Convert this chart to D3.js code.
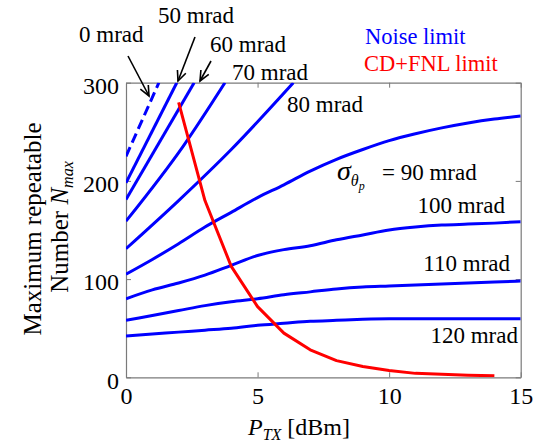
<!DOCTYPE html>
<html>
<head>
<meta charset="utf-8">
<script src="https://cdn.jsdelivr.net/npm/d3@7"></script>
<style>
  html, body { margin: 0; padding: 0; background: #fff; }
  svg { display: block; }
  text { font-family: "Liberation Serif", "Times New Roman", serif; fill: #000; }
</style>
</head>
<body>
<svg id="chart" width="543" height="446"></svg>
<script>
// Axis ticks
const xTicks = [0, 5, 10, 15];
const yTicks = [0, 100, 200, 300];

// Noise-limited curves, one per phase-error sigma (mrad); [P_TX, N_max]
const noise0   = [[0, 225], [1.25, 300]];
const noise50  = [[0, 198], [1.93, 300]];
const noise60  = [[0, 181], [2.59, 300]];
const noise70  = [[0, 159], [2.19, 236], [3.76, 300]];
const noise80  = [[0, 131], [2, 180], [4, 232], [6.36, 300]];
const noise90  = [[0, 105], [1, 120], [2, 136], [3, 153], [4, 168], [5, 183], [6, 196], [7, 210], [8, 222], [9, 232], [10, 241], [11, 248], [12, 254], [13, 259], [14, 263], [15, 266]];
const noise100 = [[0, 80], [1, 89], [2, 96], [3, 104], [4, 114], [5, 124], [6, 130], [7, 134], [8, 140], [9, 145], [10, 150], [11, 153], [12, 155], [13, 156], [14, 157], [15, 158.5]];
const noise110 = [[0, 58], [1, 63], [2, 68], [3, 73], [4, 77], [5, 80], [6, 84], [7, 87], [8, 90], [9, 92], [10, 93], [11, 94], [12, 95], [13, 96], [14, 97], [15, 98]];
const noise120 = [[0, 42], [1, 44], [2, 46], [3, 48], [4, 50], [5, 53], [6, 55], [7, 57], [8, 58], [9, 59], [10, 59.5], [11, 59.5], [12, 59.5], [13, 59.5], [14, 59.5], [15, 59.5]];

// Chromatic dispersion + fiber nonlinearity limit
const cdFnl = [[2, 280], [3, 180], [4, 113], [5, 72], [6, 45], [7, 28], [8, 17], [9, 11], [10, 7], [11, 4], [12, 3], [13, 2], [14, 1.5]];

const curveLabels = ["0 mrad", "50 mrad", "60 mrad", "70 mrad", "80 mrad", "= 90 mrad", "100 mrad", "110 mrad", "120 mrad"];

const svg = d3.select("#chart");
const x = d3.scaleLinear().domain([0, 15]).range([126, 520.7]);
const y = d3.scaleLinear().domain([0, 300]).range([377.3, 82.7]);
const axisColor = "#7a7a7a";

// Frame axes with inward ticks
function styleAxis(g) {
  g.select(".domain").attr("stroke", axisColor).attr("stroke-width", 1.2);
  g.selectAll(".tick line").attr("stroke", axisColor).attr("stroke-width", 1);
  g.selectAll(".tick text").attr("fill", "#000").style("font-family", "Liberation Serif, serif").style("font-size", "24px");
}
svg.append("g").attr("transform", `translate(0,${y(0)})`)
  .call(d3.axisBottom(x).tickValues(xTicks).tickSizeInner(-5).tickSizeOuter(0).tickPadding(10))
  .call(styleAxis);
svg.append("g").attr("transform", `translate(0,${y(300)})`)
  .call(d3.axisTop(x).tickValues(xTicks).tickSizeInner(-5).tickSizeOuter(0).tickFormat(""))
  .call(styleAxis);
svg.append("g").attr("transform", `translate(${x(0)},0)`)
  .call(d3.axisLeft(y).tickValues(yTicks).tickSizeInner(-5).tickSizeOuter(0).tickPadding(7))
  .call(styleAxis)
  .selectAll(".tick text").attr("dy", "0.45em");
svg.append("g").attr("transform", `translate(${x(15)},0)`)
  .call(d3.axisRight(y).tickValues(yTicks).tickSizeInner(-5).tickSizeOuter(0).tickFormat(""))
  .call(styleAxis);

// Curves
svg.append("defs").append("clipPath").attr("id", "plotClip")
  .append("rect").attr("x", x(0)).attr("y", y(300)).attr("width", x(15) - x(0)).attr("height", y(0) - y(300));
const smooth = d3.line().curve(d3.curveMonotoneX).x(d => x(d[0])).y(d => y(d[1]));
const straight = d3.line().x(d => x(d[0])).y(d => y(d[1]));
const plot = svg.append("g").attr("clip-path", "url(#plotClip)");

plot.append("path").datum(noise0).attr("d", smooth)
  .attr("fill", "none").attr("stroke", "#0000ff").attr("stroke-width", 3)
  .attr("stroke-dasharray", "10,5");
[noise50, noise60, noise70, noise80, noise90, noise100, noise110, noise120].forEach(s => {
  plot.append("path").datum(s).attr("d", smooth)
    .attr("fill", "none").attr("stroke", "#0000ff").attr("stroke-width", 3)
    .attr("stroke-linejoin", "round");
});
plot.append("path").datum(cdFnl).attr("d", straight)
  .attr("fill", "none").attr("stroke", "#ff0000").attr("stroke-width", 3)
  .attr("stroke-linejoin", "round");

// Curve annotations
const fs = "23px";
function label(t, px, py, anchor) {
  return svg.append("text").attr("x", px).attr("y", py).attr("text-anchor", anchor || "start")
    .style("font-size", fs).text(t);
}
label(curveLabels[0], 79, 42);
label(curveLabels[1], 158, 23);
label(curveLabels[2], 210, 52);
label(curveLabels[3], 232, 80);
label(curveLabels[4], 287, 112);
label(curveLabels[6], 505, 213, "end");
label(curveLabels[7], 510, 271, "end");
label(curveLabels[8], 518, 343, "end");

// sigma_theta_p = 90 mrad
const sig = svg.append("text").attr("x", 337).attr("y", 180).style("font-size", fs);
sig.append("tspan").style("font-style", "italic").style("font-size", "28px").text("σ");
sig.append("tspan").attr("dy", 6).style("font-style", "italic").style("font-size", "16px").text("θ");
sig.append("tspan").attr("dy", 4).style("font-style", "italic").style("font-size", "12px").text("p");
svg.append("text").attr("x", 382).attr("y", 180).style("font-size", fs).text(curveLabels[5]);

// Arrows pointing to the leftmost curves
function arrow(x1, y1, x2, y2) {
  const a = Math.atan2(y2 - y1, x2 - x1), L = 11, w = 0.42;
  const g = svg.append("g").attr("stroke", "#000").attr("stroke-width", 1.6).attr("fill", "none");
  g.append("line").attr("x1", x1).attr("y1", y1).attr("x2", x2).attr("y2", y2);
  g.append("path").attr("d",
    `M${x2 - L * Math.cos(a - w)},${y2 - L * Math.sin(a - w)}L${x2},${y2}L${x2 - L * Math.cos(a + w)},${y2 - L * Math.sin(a + w)}`);
}
arrow(128, 56, 149, 96);
arrow(195, 37, 178, 81);
arrow(211, 61, 200, 81);

// Legend
svg.append("text").attr("x", 365).attr("y", 44).style("font-size", "22.5px").style("fill", "#0000ff").text("Noise limit");
svg.append("text").attr("x", 364).attr("y", 71).style("font-size", "22.5px").style("fill", "#ff0000").text("CD+FNL limit");

// Axis titles
const xt = svg.append("text").attr("x", 248).attr("y", 435).style("font-size", "24px");
xt.append("tspan").style("font-style", "italic").text("P");
xt.append("tspan").attr("dy", 5).style("font-style", "italic").style("font-size", "16px").text("TX");
xt.append("tspan").attr("dy", -5).text(" [dBm]");

svg.append("text").attr("transform", "translate(41,229) rotate(-90)")
  .attr("text-anchor", "middle").style("font-size", "25px").text("Maximum repeatable");
const yt = svg.append("text").attr("transform", "translate(68,227) rotate(-90)")
  .attr("text-anchor", "middle").style("font-size", "25px");
yt.append("tspan").text("Number ");
yt.append("tspan").style("font-style", "italic").text("N");
yt.append("tspan").attr("dy", 5).style("font-style", "italic").style("font-size", "16px").text("max");
</script>
</body>
</html>
